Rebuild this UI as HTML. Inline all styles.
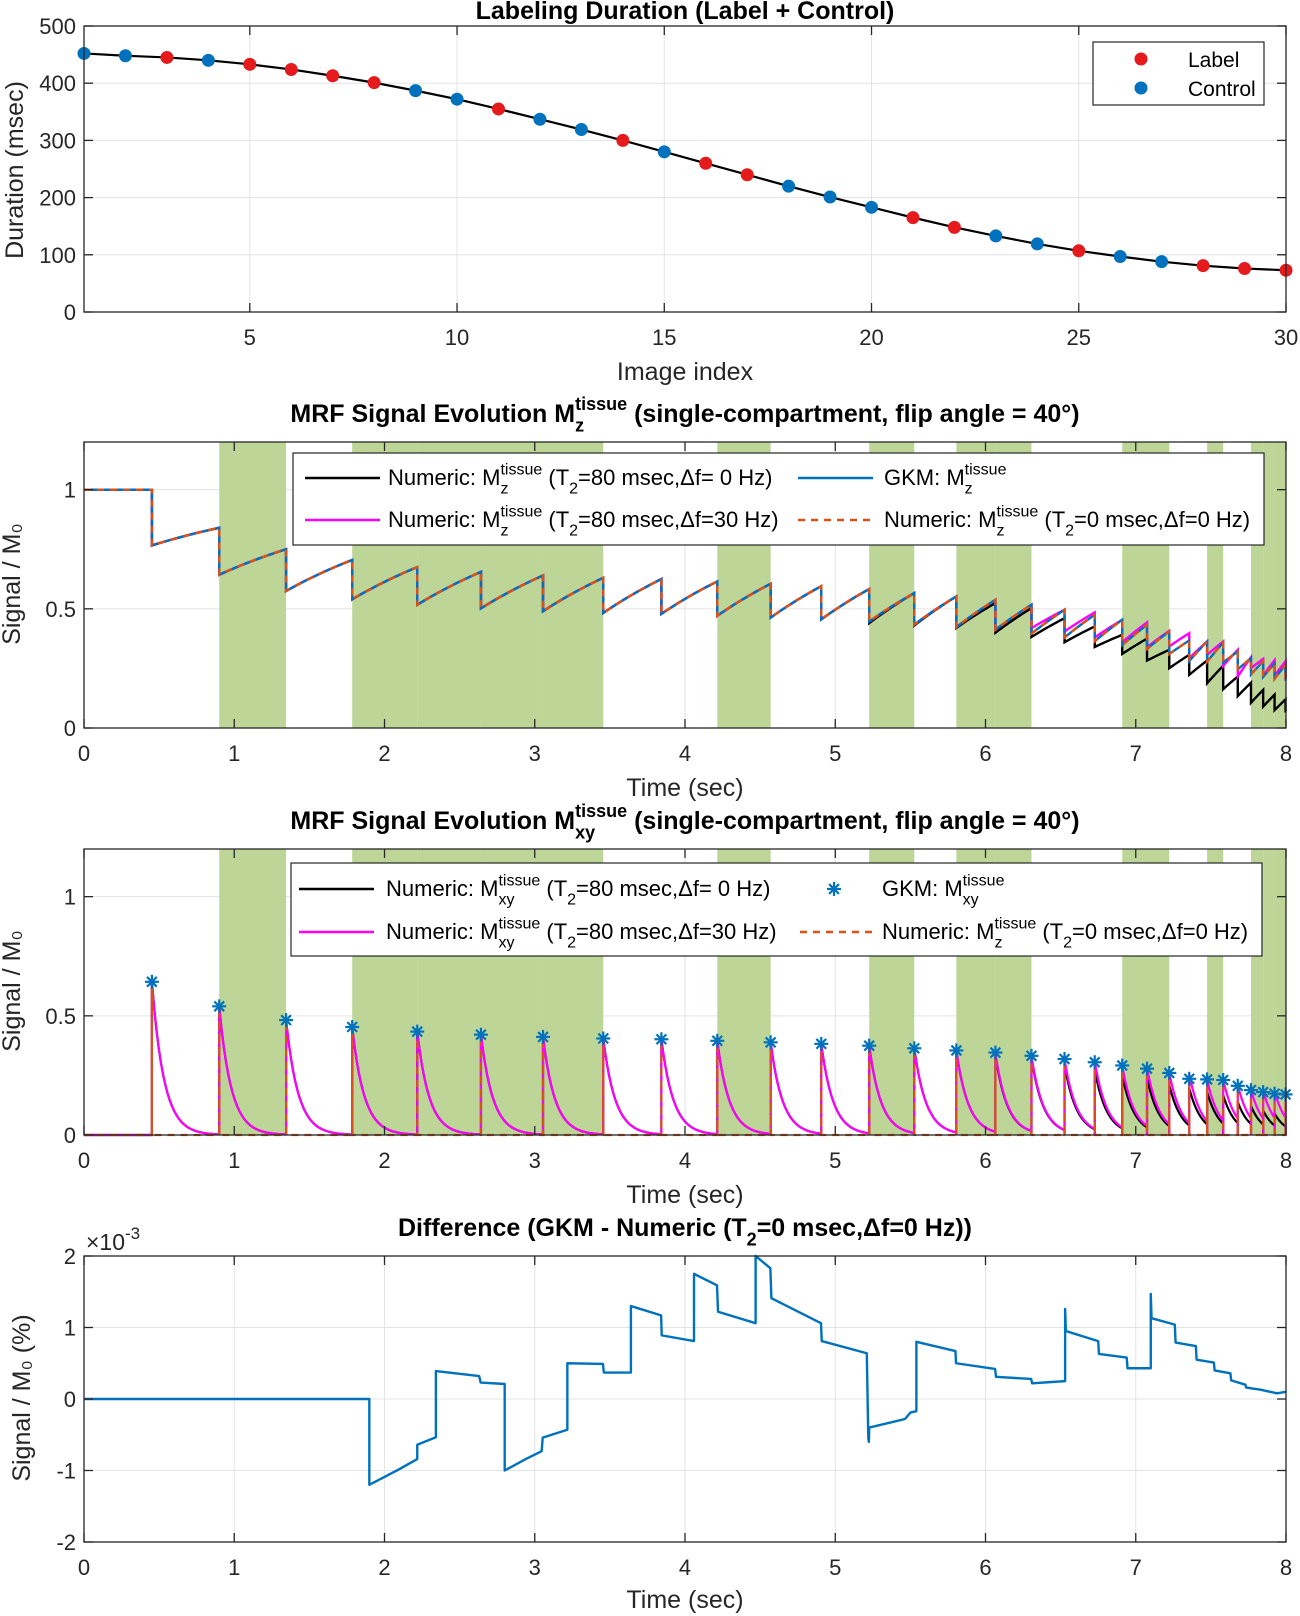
<!DOCTYPE html>
<html><head><meta charset="utf-8"><style>
html,body{margin:0;padding:0;background:#fff;}
svg{display:block;font-family:"Liberation Sans",Arial,sans-serif;}
</style></head><body>
<svg id="fig" xmlns="http://www.w3.org/2000/svg" width="1300" height="1616" viewBox="0 0 1300 1616"></svg>
<script>
// ---- data ----
const imageIndex = [1,2,3,4,5,6,7,8,9,10,11,12,13,14,15,16,17,18,19,20,21,22,23,24,25,26,27,28,29,30];
const durations = [452,448,445,440,433,424,413,401,387,372,355,337,319,300,280,260,240,220,201,183,165,148,133,119,107,97,88,81,76,73];
const labelFlags = ['C','C','L','C','L','L','L','L','C','C','L','C','C','L','C','L','L','C','C','C','L','L','C','C','L','C','C','L','L','L'];
const flipAngleDeg = 40;
const gkmPre = [1.0,0.84,0.75,0.705,0.675,0.655,0.64,0.63,0.625,0.615,0.605,0.595,0.583,0.566,0.552,0.538,0.517,0.496,0.475,0.454,0.433,0.405,0.367,0.363,0.359,0.321,0.293,0.28,0.27,0.265];
const blackPre = [1.0,0.84,0.75,0.705,0.675,0.655,0.64,0.63,0.625,0.615,0.605,0.595,0.583,0.566,0.552,0.524,0.503,0.461,0.426,0.391,0.375,0.328,0.307,0.283,0.261,0.216,0.19,0.16,0.14,0.12];
const blackPost = [0.766,0.643,0.575,0.54,0.517,0.502,0.49,0.483,0.479,0.471,0.463,0.456,0.44,0.43,0.42,0.4,0.382,0.36,0.34,0.311,0.283,0.251,0.223,0.188,0.163,0.134,0.106,0.09,0.075,0.07];
const magPre = [1.0,0.84,0.75,0.705,0.675,0.655,0.64,0.63,0.625,0.615,0.605,0.595,0.583,0.566,0.552,0.538,0.517,0.496,0.485,0.454,0.443,0.408,0.398,0.363,0.363,0.328,0.297,0.29,0.285,0.28];
const magPost = [0.766,0.643,0.575,0.54,0.517,0.502,0.49,0.483,0.479,0.471,0.463,0.456,0.447,0.434,0.423,0.412,0.419,0.405,0.38,0.36,0.339,0.342,0.293,0.307,0.261,0.216,0.251,0.22,0.22,0.21];
const diffT = [0,1.899,1.899,2.10,2.218,2.218,2.342,2.342,2.63,2.64,2.80,2.80,2.94,3.046,3.053,3.217,3.217,3.454,3.46,3.64,3.64,3.841,3.845,4.06,4.06,4.213,4.22,4.47,4.47,4.568,4.575,4.905,4.91,5.21,5.22,5.224,5.226,5.464,5.50,5.54,5.54,5.80,5.804,6.064,6.07,6.304,6.31,6.53,6.53,6.535,6.75,6.755,6.94,6.945,7.10,7.10,7.105,7.26,7.265,7.40,7.405,7.52,7.525,7.63,7.635,7.73,7.735,7.83,7.94,8.0];
const diffV = [0,0,-1.2,-0.98,-0.84,-0.64,-0.535,0.39,0.32,0.23,0.21,-1.0,-0.84,-0.73,-0.54,-0.43,0.50,0.49,0.37,0.37,1.30,1.17,0.89,0.81,1.75,1.59,1.22,1.06,2.0,1.83,1.41,1.06,0.81,0.64,-0.55,-0.6,-0.4,-0.28,-0.19,-0.17,0.80,0.67,0.50,0.42,0.31,0.28,0.22,0.25,1.26,0.95,0.81,0.63,0.58,0.43,0.43,1.47,1.13,1.04,0.79,0.74,0.55,0.51,0.40,0.36,0.26,0.20,0.16,0.13,0.08,0.1];
const ticks1X = [5,10,15,20,25,30];
const ticks1Y = [0,100,200,300,400,500];
const ticksTime = [0,1,2,3,4,5,6,7,8];
const ticksSig = [0,0.5,1];
const ticksSigLabels = ['0','0.5','1'];
const ticksDiff = [-2,-1,0,1,2];

// ---- helpers ----
const NS = 'http://www.w3.org/2000/svg';
const svg = document.getElementById('fig');
const TICK_FS = 22, TITLE_FS = 25, AX_FS = 25, LEG_FS = 22;
function mk(tag, attrs, parent) {
  const e = document.createElementNS(NS, tag);
  for (const k in attrs) e.setAttribute(k, attrs[k]);
  (parent || svg).appendChild(e);
  return e;
}
function rich(parent, x, y, runs, size, weight, anchor) {
  const t = mk('text', {x: x, y: y, 'font-size': size, 'font-weight': weight || 'normal', fill: '#000'}, parent);
  let cx = x, pendingStart = null, pendingW = 0;
  const small = Math.round(size * 0.72);
  for (let i = 0; i < runs.length; i++) {
    const r = runs[i];
    const typ = r[1] || 'n';
    let sx = cx;
    if (typ === 'sup' && pendingStart !== null) sx = pendingStart;
    const off = typ === 'sub' ? size * 0.38 : (typ === 'sup' ? -size * 0.48 : 0);
    const ts = mk('tspan', {x: sx, y: y + off, 'font-size': typ === 'n' ? size : small}, t);
    ts.textContent = r[0];
    const w = ts.getComputedTextLength();
    if (typ === 'sub') { pendingStart = sx; pendingW = w; cx = sx + w; }
    else if (typ === 'sup' && pendingStart !== null) { cx = sx + Math.max(w, pendingW); pendingStart = null; }
    else { cx = sx + w; pendingStart = null; }
  }
  const total = cx - x;
  if (anchor === 'middle') t.setAttribute('transform', 'translate(' + (-total / 2) + ',0)');
  return t;
}
function axes(o) {
  const g = mk('g', {});
  
  
  const sx = v => o.l + (v - o.x0) / (o.x1 - o.x0) * (o.r - o.l);
  const sy = v => o.b - (v - o.y0) / (o.y1 - o.y0) * (o.b - o.t);
  const grid = mk('g', {stroke: '#e3e3e3', 'stroke-width': 1}, g);
  
  
  o.xt.forEach(v => mk('line', {x1: sx(v), x2: sx(v), y1: o.t, y2: o.b}, grid));
  o.yt.forEach(v => mk('line', {x1: o.l, x2: o.r, y1: sy(v), y2: sy(v)}, grid));
  const data = mk('g', {}, g);
  
  
  const frame = mk('g', {}, g);
  mk('rect', {x: o.l, y: o.t, width: o.r - o.l, height: o.b - o.t, fill: 'none', stroke: '#262626', 'stroke-width': 1.3}, frame);
  const tk = mk('g', {stroke: '#262626', 'stroke-width': 1.3}, frame);
  o.xt.forEach(v => { mk('line', {x1: sx(v), x2: sx(v), y1: o.b, y2: o.b - 9}, tk); mk('line', {x1: sx(v), x2: sx(v), y1: o.t, y2: o.t + 9}, tk); });
  o.yt.forEach(v => { mk('line', {x1: o.l, x2: o.l + 9, y1: sy(v), y2: sy(v)}, tk); mk('line', {x1: o.r, x2: o.r - 9, y1: sy(v), y2: sy(v)}, tk); });
  const xl = mk('g', {'font-size': TICK_FS, fill: '#262626', 'text-anchor': 'middle'}, frame);
  
  
  o.xt.forEach(v => { const t = mk('text', {x: sx(v), y: o.b + 33}, xl); t.textContent = String(v); });
  const yl = mk('g', {'font-size': TICK_FS, fill: '#262626', 'text-anchor': 'end'}, frame);
  
  
  o.yt.forEach((v, i) => { const t = mk('text', {x: o.l - 8, y: sy(v) + 8}, yl); t.textContent = o.ytl ? o.ytl[i] : String(v); });
  return {g: g, data: data, sx: sx, sy: sy, frame: frame};
}
function pathD(pts) { return pts.map((p, i) => (i ? 'L' : 'M') + p[0].toFixed(2) + ',' + p[1].toFixed(2)).join(''); }
function label(parent, x, y, txt, size, rot, name, weight) {
  const t = mk('text', {x: x, y: y, 'font-size': size, 'text-anchor': 'middle', fill: '#262626', 'font-weight': weight || 'normal'}, parent);
  if (rot) t.setAttribute('transform', 'rotate(-90 ' + x + ' ' + y + ')');
  t.textContent = txt;
  
  
  return t;
}

// readout times (sec) = cumulative labeling durations
const readT = [];
let acc = 0;
durations.forEach(d => { acc += d; readT.push(acc / 1000); });
const fa = flipAngleDeg * Math.PI / 180;
const gkmPost = gkmPre.map(v => v * Math.cos(fa));

// ---- Panel 1 ----
const A1 = axes({name: 'duration-chart', l: 84, r: 1286, t: 26, b: 312, x0: 1, x1: 30, y0: 0, y1: 500, xt: ticks1X, yt: ticks1Y});
const ln1 = mk('path', {d: pathD(imageIndex.map((v, i) => [A1.sx(v), A1.sy(durations[i])])), fill: 'none', stroke: '#000', 'stroke-width': 2.2}, A1.data);


imageIndex.forEach((v, i) => {
  const c = mk('circle', {cx: A1.sx(v), cy: A1.sy(durations[i]), r: 6.5, fill: labelFlags[i] === 'L' ? '#e41a1c' : '#0072bd'}, A1.data);
  
  
});
label(svg, 685, 19, 'Labeling Duration (Label + Control)', TITLE_FS, false, 'duration-title', 'bold').setAttribute('fill', '#000');
label(svg, 685, 380, 'Image index', AX_FS, false, 'duration-x-axis-title');
label(svg, 23, 170, 'Duration (msec)', AX_FS, true, 'duration-y-axis-title');
const lg1 = mk('g', {});


mk('rect', {x: 1093, y: 42, width: 171, height: 63, fill: '#fff', stroke: '#262626', 'stroke-width': 1.2}, lg1);
mk('circle', {cx: 1141, cy: 59, r: 6.5, fill: '#e41a1c'}, lg1);
mk('circle', {cx: 1141, cy: 88, r: 6.5, fill: '#0072bd'}, lg1);
const lt1 = mk('text', {x: 1188, y: 67, 'font-size': 21, fill: '#000'}, lg1); lt1.textContent = 'Label';


const lt2 = mk('text', {x: 1188, y: 96, 'font-size': 21, fill: '#000'}, lg1); lt2.textContent = 'Control';



// ---- shared for panels 2/3 ----
function bands(A, top, bot) {
  let prev = 0;
  readT.forEach((t, i) => {
    if (labelFlags[i] === 'L') {
      const r = mk('rect', {x: A.sx(prev), y: top, width: A.sx(t) - A.sx(prev), height: bot - top, fill: '#bdd698'}, A.data);
      
      
    }
    prev = t;
  });
}
function mzPath(A, pre, post) {
  const T1 = 1.2;
  const pts = [[A.sx(0), A.sy(pre[0])]];
  for (let i = 0; i < readT.length; i++) {
    const t0 = readT[i];
    pts.push([A.sx(t0), A.sy(pre[i])]);
    pts.push([A.sx(t0), A.sy(post[i])]);
    const t1 = i + 1 < readT.length ? readT[i + 1] : 8;
    const target = i + 1 < readT.length ? pre[i + 1] : post[i];
    const D = t1 - t0, n = 12;
    for (let k = 1; k <= n; k++) {
      const dt = D * k / n;
      const f = (1 - Math.exp(-dt / T1)) / (1 - Math.exp(-D / T1));
      pts.push([A.sx(Math.min(t0 + dt, 8)), A.sy(post[i] + (target - post[i]) * f)]);
    }
  }
  return pathD(pts);
}

// ---- Panel 2 ----
const A2 = axes({name: 'mz-chart', l: 84, r: 1286, t: 442, b: 728, x0: 0, x1: 8, y0: 0, y1: 1.2, xt: ticksTime, yt: ticksSig, ytl: ticksSigLabels});
bands(A2, 442, 728);
[['mz-numeric-df0-line', blackPre, blackPost, '#000', ''], ['mz-numeric-df30-line', magPre, magPost, '#ff00ff', ''], ['mz-gkm-line', gkmPre, gkmPost, '#0072bd', ''], ['mz-numeric-t2-0-line', gkmPre, gkmPost, '#d95319', '7,6']].forEach(s => {
  const p = mk('path', {d: mzPath(A2, s[1], s[2]), fill: 'none', stroke: s[3], 'stroke-width': 2.4, 'stroke-dasharray': s[4] || 'none'}, A2.data);
  
  
});
const t2 = rich(svg, 685, 422, [['MRF Signal Evolution M'], ['z', 'sub'], ['tissue', 'sup'], [' (single-compartment, flip angle = 40°)']], TITLE_FS, 'bold', 'middle');


label(svg, 685, 796, 'Time (sec)', AX_FS, false, 'mz-x-axis-title');
label(svg, 20, 584, 'Signal / M\u2080', AX_FS, true, 'mz-y-axis-title');

function legend(name, x, y, w, h, rows) {
  const g = mk('g', {});
  
  
  mk('rect', {x: x, y: y, width: w, height: h, fill: '#fff', stroke: '#262626', 'stroke-width': 1.2}, g);
  rows.forEach(r => {
    const e = mk('g', {}, g);
    
    
    if (r.star) star(e, r.lx + 38, r.ly, '#0072bd');
    else mk('line', {x1: r.lx, x2: r.lx + 75, y1: r.ly, y2: r.ly, stroke: r.c, 'stroke-width': 2.4, 'stroke-dasharray': r.dash || 'none'}, e);
    rich(e, r.tx, r.ly + 7, r.runs, LEG_FS, 'normal', 'start');
  });
}
function star(parent, cx, cy, col) {
  const s = 7;
  const g = mk('g', {stroke: col, 'stroke-width': 2.2}, parent);
  mk('line', {x1: cx - s, x2: cx + s, y1: cy, y2: cy}, g);
  mk('line', {x1: cx, x2: cx, y1: cy - s, y2: cy + s}, g);
  mk('line', {x1: cx - s * 0.7, x2: cx + s * 0.7, y1: cy - s * 0.7, y2: cy + s * 0.7}, g);
  mk('line', {x1: cx - s * 0.7, x2: cx + s * 0.7, y1: cy + s * 0.7, y2: cy - s * 0.7}, g);
  return g;
}
legend('mz-legend', 293, 453, 971, 92, [
  {lx: 305, ly: 478, tx: 388, c: '#000', runs: [['Numeric: M'], ['z', 'sub'], ['tissue', 'sup'], [' (T'], ['2', 'sub'], ['=80 msec,\u0394f= 0 Hz)']]},
  {lx: 305, ly: 520, tx: 388, c: '#ff00ff', runs: [['Numeric: M'], ['z', 'sub'], ['tissue', 'sup'], [' (T'], ['2', 'sub'], ['=80 msec,\u0394f=30 Hz)']]},
  {lx: 798, ly: 478, tx: 884, c: '#0072bd', runs: [['GKM: M'], ['z', 'sub'], ['tissue', 'sup']]},
  {lx: 798, ly: 520, tx: 884, c: '#d95319', dash: '7,6', runs: [['Numeric: M'], ['z', 'sub'], ['tissue', 'sup'], [' (T'], ['2', 'sub'], ['=0 msec,\u0394f=0 Hz)']]}
]);

// ---- Panel 3 ----
const A3 = axes({name: 'mxy-chart', l: 84, r: 1286, t: 849, b: 1135, x0: 0, x1: 8, y0: 0, y1: 1.2, xt: ticksTime, yt: ticksSig, ytl: ticksSigLabels});
bands(A3, 849, 1135);
function mxyPath(A, pre) {
  const T2 = 0.08, s = Math.sin(fa);
  const pts = [[A.sx(0), A.sy(0)]];
  for (let i = 0; i < readT.length; i++) {
    const t0 = readT[i], t1 = i + 1 < readT.length ? readT[i + 1] : 8;
    pts.push([A.sx(t0), A.sy(0)]);
    const n = 30;
    for (let k = 0; k <= n; k++) {
      const dt = (t1 - t0) * k / n;
      pts.push([A.sx(t0 + dt), A.sy(pre[i] * s * Math.exp(-dt / T2))]);
    }
  }
  return pathD(pts);
}
[['mxy-numeric-df0-line', blackPre, '#000'], ['mxy-numeric-df30-line', magPre, '#ff00ff']].forEach(s => {
  const p = mk('path', {d: mxyPath(A3, s[1]), fill: 'none', stroke: s[2], 'stroke-width': 2.2}, A3.data);
  
  
});
(function () {
  const pts = [[A3.sx(0), A3.sy(0)]];
  readT.forEach((t, i) => { pts.push([A3.sx(t), A3.sy(0)]); pts.push([A3.sx(t), A3.sy(gkmPre[i] * Math.sin(fa))]); pts.push([A3.sx(t), A3.sy(0)]); });
  pts.push([A3.sx(8), A3.sy(0)]);
  const p = mk('path', {d: pathD(pts), fill: 'none', stroke: '#d95319', 'stroke-width': 2.2, 'stroke-dasharray': '7,6'}, A3.data);
  
  
})();
readT.forEach((t, i) => {
  const s = star(A3.data, A3.sx(t), A3.sy(gkmPre[i] * Math.sin(fa)), '#0072bd');
  
  
});
const t3 = rich(svg, 685, 829, [['MRF Signal Evolution M'], ['xy', 'sub'], ['tissue', 'sup'], [' (single-compartment, flip angle = 40°)']], TITLE_FS, 'bold', 'middle');


label(svg, 685, 1203, 'Time (sec)', AX_FS, false, 'mxy-x-axis-title');
label(svg, 20, 991, 'Signal / M\u2080', AX_FS, true, 'mxy-y-axis-title');
legend('mxy-legend', 291, 863, 971, 93, [
  {lx: 299, ly: 889, tx: 386, c: '#000', runs: [['Numeric: M'], ['xy', 'sub'], ['tissue', 'sup'], [' (T'], ['2', 'sub'], ['=80 msec,\u0394f= 0 Hz)']]},
  {lx: 299, ly: 932, tx: 386, c: '#ff00ff', runs: [['Numeric: M'], ['xy', 'sub'], ['tissue', 'sup'], [' (T'], ['2', 'sub'], ['=80 msec,\u0394f=30 Hz)']]},
  {lx: 796, ly: 889, tx: 882, star: true, runs: [['GKM: M'], ['xy', 'sub'], ['tissue', 'sup']]},
  {lx: 800, ly: 932, tx: 882, c: '#d95319', dash: '7,6', runs: [['Numeric: M'], ['z', 'sub'], ['tissue', 'sup'], [' (T'], ['2', 'sub'], ['=0 msec,\u0394f=0 Hz)']]}
]);

// ---- Panel 4 ----
const A4 = axes({name: 'difference-chart', l: 84, r: 1286, t: 1256, b: 1542, x0: 0, x1: 8, y0: -2, y1: 2, xt: ticksTime, yt: ticksDiff});
const dl = mk('path', {d: pathD(diffT.map((t, i) => [A4.sx(t), A4.sy(diffV[i])])), fill: 'none', stroke: '#0072bd', 'stroke-width': 2.4, 'stroke-linejoin': 'round'}, A4.data);


const t4 = rich(svg, 685, 1236, [['Difference (GKM - Numeric (T'], ['2', 'sub'], ['=0 msec,\u0394f=0 Hz))']], TITLE_FS, 'bold', 'middle');


const ex = rich(svg, 86, 1250, [['\u00d710'], ['-3', 'sup']], 23, 'normal', 'start');
ex.setAttribute('fill', '#262626');


label(svg, 685, 1608, 'Time (sec)', AX_FS, false, 'difference-x-axis-title');
label(svg, 30, 1398, 'Signal / M\u2080 (%)', AX_FS, true, 'difference-y-axis-title');
</script>
</body></html>
